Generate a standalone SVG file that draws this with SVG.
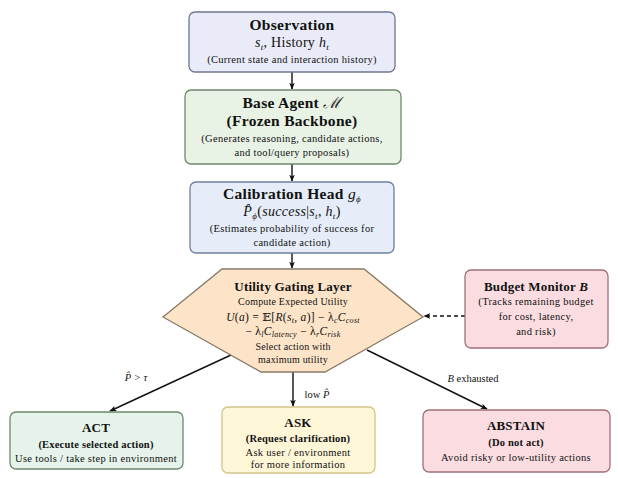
<svg xmlns="http://www.w3.org/2000/svg" width="618" height="478" viewBox="0 0 618 478">
<defs>
<marker id="ah" viewBox="0 0 10 10" refX="9" refY="5" markerWidth="7" markerHeight="7" orient="auto-start-reverse" markerUnits="userSpaceOnUse">
<path d="M0,1 L10,5 L0,9 L2.5,5 Z" fill="#111"/>
</marker>
<style>
text{font-family:"Liberation Serif","DejaVu Serif",serif;fill:#111;text-anchor:middle}
.t{font-weight:bold;font-size:15.5px;letter-spacing:0.3px}
.t2{font-weight:bold;font-size:13px;letter-spacing:0.2px}
.m{font-size:14px;letter-spacing:0.3px}
.s{font-size:10.5px;letter-spacing:0.3px}
.sb{font-size:10.5px;font-weight:bold;letter-spacing:0.2px}
.h{font-size:10px;letter-spacing:0.2px}
.f{font-size:11.5px;letter-spacing:0.3px}
.i{font-style:italic}
.lab{font-size:10.5px}
.box{stroke-width:1.3}
.conn line,.conn path{stroke:#111;stroke-width:1.4;fill:none}
</style>
</defs>
<rect width="618" height="478" fill="#fff"/>

<g class="conn">
<line x1="292" y1="72" x2="292" y2="89" marker-end="url(#ah)"/>
<line x1="292" y1="164" x2="292" y2="181" marker-end="url(#ah)"/>
<line x1="292" y1="253" x2="292" y2="268" marker-end="url(#ah)"/>
<line x1="231" y1="355" x2="110" y2="411" marker-end="url(#ah)"/>
<line x1="293" y1="372" x2="293" y2="406" marker-end="url(#ah)"/>
<line x1="367" y1="350" x2="487" y2="409" marker-end="url(#ah)"/>
<line x1="465" y1="316" x2="424" y2="316" stroke-dasharray="4,3" marker-end="url(#ah)"/>
<text class="lab i" x="136" y="381">P̂ &gt; τ</text>
<text class="lab" x="317" y="398"><tspan>low </tspan><tspan class="i">P̂</tspan></text>
<text class="lab" x="473" y="382"><tspan class="i">B</tspan><tspan> exhausted</tspan></text>
</g>

<g id="observation">
<rect class="box" x="189" y="12" width="206" height="60" rx="6" fill="#e9ecf8" stroke="#6f7590"/>
<text class="t" x="292" y="30">Observation</text>
<text class="m" x="292" y="47"><tspan class="i">s</tspan><tspan class="i" font-size="9" dy="2.5">t</tspan><tspan dy="-2.5">, History </tspan><tspan class="i">h</tspan><tspan class="i" font-size="9" dy="2.5">t</tspan></text>
<text class="s" x="292" y="63">(Current state and interaction history)</text>
</g>

<g id="base-agent">
<rect class="box" x="185" y="90" width="216" height="74" rx="6" fill="#e8f3e6" stroke="#6c8a68"/>
<text class="t" x="292" y="108">Base Agent <tspan class="i" font-weight="normal">ℳ</tspan></text>
<text class="t" x="292" y="126" font-size="13.5px">(Frozen Backbone)</text>
<text class="s" x="292" y="142">(Generates reasoning, candidate actions,</text>
<text class="s" x="292" y="156">and tool/query proposals)</text>
</g>

<g id="calibration-head">
<rect class="box" x="190" y="182" width="204" height="71" rx="6" fill="#e6edf8" stroke="#6d7fa0"/>
<text class="t" x="292" y="199">Calibration Head <tspan class="i" font-weight="normal">g</tspan><tspan class="i" font-weight="normal" font-size="9" dy="2.5">ϕ</tspan></text>
<text class="m i" x="292" y="216">P̂<tspan font-size="9" dy="2.5">ϕ</tspan><tspan dy="-2.5" font-style="normal">(</tspan>success<tspan font-style="normal">|</tspan>s<tspan font-size="9" dy="2.5">t</tspan><tspan dy="-2.5" font-style="normal">, </tspan>h<tspan font-size="9" dy="2.5">t</tspan><tspan dy="-2.5" font-style="normal">)</tspan></text>
<text class="s" x="292" y="232">(Estimates probability of success for</text>
<text class="s" x="292" y="246">candidate action)</text>
</g>

<g id="utility-gating-layer">
<polygon class="box" points="163,317 222,269 364,269 423,317 325,372 261,372" fill="#fde4c8" stroke="#8a7a68"/>
<text class="t2" x="293" y="291">Utility Gating Layer</text>
<text class="h" x="293" y="305">Compute Expected Utility</text>
<text class="f" x="293" y="321"><tspan class="i">U</tspan>(<tspan class="i">a</tspan>) = 𝔼[<tspan class="i">R</tspan>(<tspan class="i">s</tspan><tspan class="i" font-size="8" dy="2">t</tspan><tspan dy="-2">, </tspan><tspan class="i">a</tspan>)] − λ<tspan class="i" font-size="8" dy="2">c</tspan><tspan class="i" dy="-2">C</tspan><tspan class="i" font-size="8" dy="2">cost</tspan></text>
<text class="f" x="293" y="335"><tspan dy="0">− λ</tspan><tspan class="i" font-size="8" dy="2">l</tspan><tspan class="i" dy="-2">C</tspan><tspan class="i" font-size="8" dy="2">latency</tspan><tspan dy="-2"> − λ</tspan><tspan class="i" font-size="8" dy="2">r</tspan><tspan class="i" dy="-2">C</tspan><tspan class="i" font-size="8" dy="2">risk</tspan></text>
<text class="h" x="293" y="350">Select action with</text>
<text class="h" x="293" y="363">maximum utility</text>
</g>

<g id="budget-monitor">
<rect class="box" x="465" y="270" width="143" height="78" rx="6" fill="#fbdde1" stroke="#a0707a"/>
<text class="t2" x="536" y="291">Budget Monitor <tspan class="i">B</tspan></text>
<text class="s" x="536" y="305">(Tracks remaining budget</text>
<text class="s" x="536" y="320">for cost, latency,</text>
<text class="s" x="536" y="335">and risk)</text>
</g>

<g id="act">
<rect class="box" x="10" y="412" width="173" height="57" rx="6" fill="#e6f3ea" stroke="#6a8a70"/>
<text class="t2" x="96" y="432">ACT</text>
<text class="sb" x="96" y="448">(Execute selected action)</text>
<text class="s" x="96" y="462">Use tools / take step in environment</text>
</g>

<g id="ask">
<rect class="box" x="222" y="407" width="153" height="66" rx="6" fill="#fff6d8" stroke="#d6c48a"/>
<text class="t2" x="298" y="427">ASK</text>
<text class="sb" x="298" y="442">(Request clarification)</text>
<text class="s" x="298" y="456">Ask user / environment</text>
<text class="s" x="298" y="468">for more information</text>
</g>

<g id="abstain">
<rect class="box" x="423" y="410" width="187" height="62" rx="6" fill="#fbdde1" stroke="#a0707a"/>
<text class="t2" x="516" y="430">ABSTAIN</text>
<text class="sb" x="516" y="446">(Do not act)</text>
<text class="s" x="516" y="461">Avoid risky or low-utility actions</text>
</g>
</svg>
